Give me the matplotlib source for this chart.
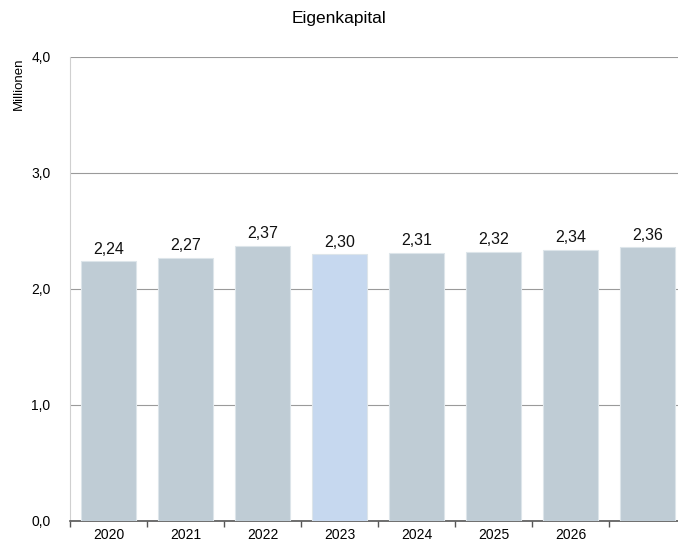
import matplotlib.pyplot as plt
import numpy as np

plt.rcParams['font.family'] = ['Liberation Sans', 'DejaVu Sans']

years = ['2020', '2021', '2022', '2023', '2024', '2025', '2026', '']
values = [2.24, 2.27, 2.37, 2.30, 2.31, 2.32, 2.34, 2.36]
highlight = '2023'

def fmt(v, n):
    return f"{v:.{n}f}".replace('.', ',')

fig = plt.figure(figsize=(6.78, 5.41), dpi=100)
# axes extends slightly past the right edge, like the original
ax = fig.add_axes([70/678, 20/541, 616/678, 464/541])

x = np.arange(len(years))
cols = ['#c6d8ef' if y == highlight else '#bfccd5' for y in years]
bars = ax.bar(x, values, width=0.72, color=cols, edgecolor='#dde5ea', linewidth=0.8, zorder=3)

for xi, v in zip(x, values):
    ax.text(xi, v + 0.04, fmt(v, 2), ha='center', va='bottom', fontsize=11.5, color='#111111')

ax.set_xlim(-0.5, len(years) - 0.5)
ax.set_ylim(0, 4)
ax.set_yticks([0, 1, 2, 3, 4])
ax.set_yticklabels([fmt(t, 1) for t in [0, 1, 2, 3, 4]], fontsize=10)
ax.tick_params(axis='y', length=0, pad=14)
ax.yaxis.grid(True, color='#9a9a9a', linewidth=0.8, zorder=0)

ax.set_xticks(x)
ax.set_xticklabels(years, fontsize=10)
ax.set_xticks(np.arange(len(years) + 1) - 0.5, minor=True)
ax.tick_params(axis='x', which='major', length=0, pad=5)
ax.tick_params(axis='x', which='minor', length=4, color='#555555', width=1)

for s in ['top', 'right']:
    ax.spines[s].set_visible(False)
ax.spines['left'].set_color('#d0d0d0')
ax.spines['bottom'].set_color('#555555')
ax.spines['bottom'].set_linewidth(1.2)

fig.text(339/678, 1 - 18/541, 'Eigenkapital', ha='center', va='center', fontsize=12.5)
fig.text(19/678, 1 - 57/541, 'Millionen', rotation=90, ha='center', va='top', fontsize=9.5)

fig.savefig('out.png', dpi=100)
